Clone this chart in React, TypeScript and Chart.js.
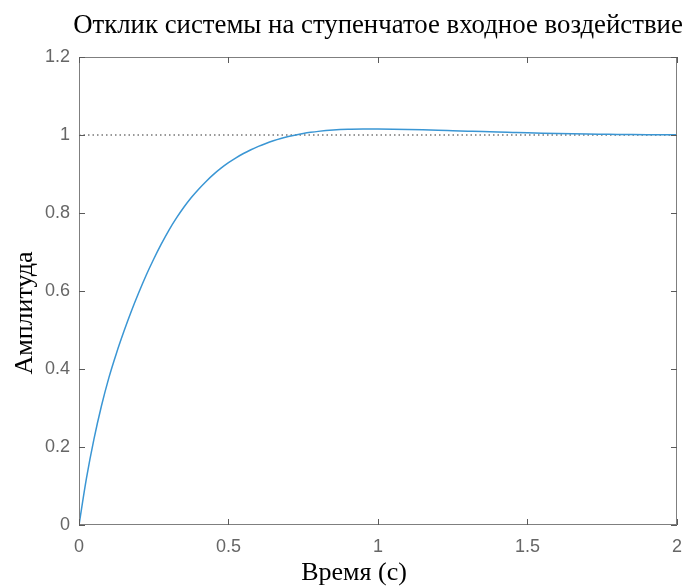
import React, { useEffect, useRef } from "react";
import { Chart, registerables } from "chart.js";

Chart.register(...registerables);

const titleText = "Отклик системы на ступенчатое входное воздействие";
const xAxisTitle = "Время (с)";
const yAxisTitle = "Амплитуда";

const timeValues = [
  0, 0.025, 0.05, 0.075, 0.1, 0.125, 0.15, 0.175, 0.2, 0.225, 0.25, 0.275, 0.3, 0.325, 0.35,
  0.375, 0.4, 0.425, 0.45, 0.475, 0.5, 0.525, 0.55, 0.575, 0.6, 0.625, 0.65, 0.675, 0.7, 0.725,
  0.75, 0.775, 0.8, 0.85, 0.9, 0.95, 1.0, 1.05, 1.1, 1.15, 1.2, 1.25, 1.3, 1.35, 1.4, 1.45, 1.5,
  1.55, 1.6, 1.65, 1.7, 1.75, 1.8, 1.85, 1.9, 1.95, 2.0,
];
const responseValues = [
  0, 0.12, 0.22, 0.305, 0.378, 0.44, 0.496, 0.548, 0.596, 0.641, 0.682, 0.72, 0.755, 0.786,
  0.814, 0.839, 0.861, 0.881, 0.899, 0.915, 0.929, 0.9415, 0.9525, 0.9622, 0.9708, 0.9784,
  0.9851, 0.9909, 0.9959, 1.0002, 1.0038, 1.0068, 1.0093, 1.0128, 1.0146, 1.0152, 1.0153,
  1.015, 1.0143, 1.0134, 1.0123, 1.0111, 1.0099, 1.0087, 1.0076, 1.0066, 1.0056, 1.0047,
  1.0039, 1.0032, 1.0026, 1.0021, 1.0016, 1.0012, 1.0009, 1.0006, 1.0004,
];
const steadyStateValue = 1;

const xTickValues = [0, 0.5, 1, 1.5, 2];
const xTickLabels = ["0", "0.5", "1", "1.5", "2"];
const yTickValues = [0, 0.2, 0.4, 0.6, 0.8, 1, 1.2];
const yTickLabels = ["0", "0.2", "0.4", "0.6", "0.8", "1", "1.2"];

const boxPlugin = {
  id: "matlabBox",
  afterDatasetsDraw(chart: any) {
    const { ctx, chartArea: a, scales } = chart;
    const xs = scales.x;
    const ys = scales.y;
    ctx.save();
    ctx.strokeStyle = "#7f7f7f";
    ctx.lineWidth = 1;
    ctx.strokeRect(Math.round(a.left) + 0.5, Math.round(a.top) + 0.5, Math.round(a.right - a.left) - 1, Math.round(a.bottom - a.top) - 1);
    ctx.strokeStyle = "#5a5a5a";
    const tl = 6;
    ctx.beginPath();
    xTickValues.forEach((v) => {
      const px = Math.round(xs.getPixelForValue(v)) + 0.5;
      ctx.moveTo(px, a.bottom);
      ctx.lineTo(px, a.bottom - tl);
      ctx.moveTo(px, a.top);
      ctx.lineTo(px, a.top + tl);
    });
    yTickValues.forEach((v) => {
      const py = Math.round(ys.getPixelForValue(v)) + 0.5;
      ctx.moveTo(a.left, py);
      ctx.lineTo(a.left + tl, py);
      ctx.moveTo(a.right, py);
      ctx.lineTo(a.right - tl, py);
    });
    ctx.stroke();
    ctx.restore();
  },
  afterDraw(chart: any) {
    const { ctx, chartArea: a } = chart;
    ctx.save();
    ctx.fillStyle = "#000000";
    ctx.textAlign = "center";
    ctx.textBaseline = "alphabetic";
    ctx.font = '26.8px "Liberation Serif"';
    ctx.fillText(titleText, (a.left + a.right) / 2, 33);
    ctx.font = '26px "Liberation Serif"';
    ctx.fillText(xAxisTitle, 354, 580);
    ctx.translate(32, 313);
    ctx.rotate(-Math.PI / 2);
    ctx.fillText(yAxisTitle, 0, 0);
    ctx.restore();
  },
};

export default function App() {
  const canvasRef = useRef<HTMLCanvasElement | null>(null);

  useEffect(() => {
    if (!canvasRef.current) return;
    const chart = new Chart(canvasRef.current, {
      type: "line",
      data: {
        datasets: [
          {
            data: timeValues.map((t, i) => ({ x: t, y: responseValues[i] })),
            borderColor: "#3a96d4",
            borderWidth: 1.5,
            pointRadius: 0,
            fill: false,
            cubicInterpolationMode: "monotone",
          },
          {
            data: [
              { x: timeValues[0], y: steadyStateValue },
              { x: timeValues[timeValues.length - 1], y: steadyStateValue },
            ],
            borderColor: "#333333",
            borderWidth: 1,
            borderDash: [1.5, 3],
            pointRadius: 0,
            fill: false,
          },
        ],
      },
      plugins: [boxPlugin],
      options: {
        animation: false,
        responsive: false,
        maintainAspectRatio: false,
        layout: { padding: { left: 0, right: 8, top: 57, bottom: 0 } },
        plugins: {
          legend: { display: false },
          tooltip: { enabled: false },
          title: { display: false },
        },
        scales: {
          x: {
            type: "linear",
            min: 0,
            max: 2,
            grid: { display: false, drawTicks: false },
            border: { display: false },
            afterFit: (s: any) => {
              s.height = 63;
            },
            afterBuildTicks: (s: any) => {
              s.ticks = xTickValues.map((v) => ({ value: v }));
            },
            ticks: {
              padding: 11,
              color: "#666666",
              font: { family: '"Liberation Sans"', size: 18 },
              maxRotation: 0,
              callback: (v: any) => {
                const i = xTickValues.indexOf(Number(v));
                return i >= 0 ? xTickLabels[i] : "";
              },
            },
          },
          y: {
            type: "linear",
            min: 0,
            max: 1.2,
            grid: { display: false, drawTicks: false },
            border: { display: false },
            afterFit: (s: any) => {
              s.width = 79;
            },
            afterBuildTicks: (s: any) => {
              s.ticks = yTickValues.map((v) => ({ value: v }));
            },
            ticks: {
              padding: 9,
              color: "#666666",
              font: { family: '"Liberation Sans"', size: 18 },
              callback: (v: any) => {
                const i = yTickValues.findIndex((t) => Math.abs(t - Number(v)) < 1e-9);
                return i >= 0 ? yTickLabels[i] : "";
              },
            },
          },
        },
      },
    });
    return () => chart.destroy();
  }, []);

  return (
    <div style={{ position: "fixed", left: 0, top: 0, width: 693, height: 588, background: "#ffffff" }}>
      <canvas ref={canvasRef} width={693} height={588} style={{ display: "block", width: 693, height: 588 }} />
    </div>
  );
}
